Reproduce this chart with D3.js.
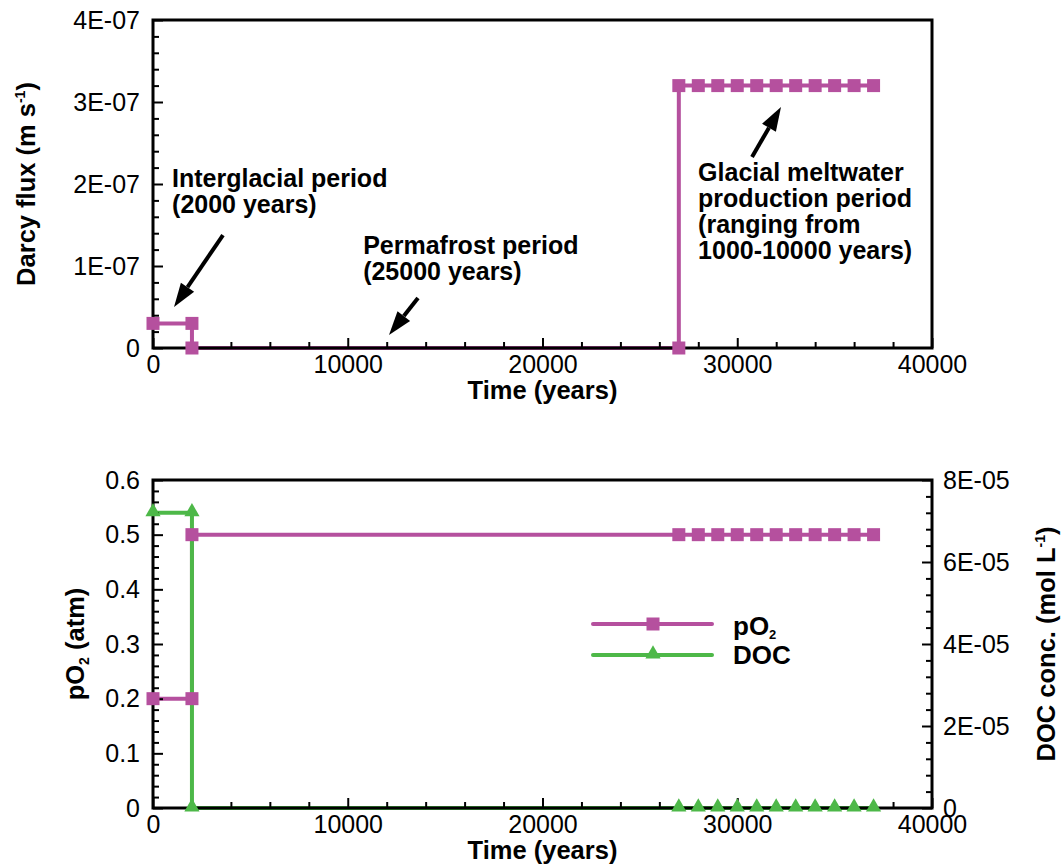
<!DOCTYPE html>
<html><head><meta charset="utf-8">
<script src="https://cdn.jsdelivr.net/npm/d3@7"></script>
<style>body{margin:0;background:#fff} text{font-family:"Liberation Sans",Arial,sans-serif;fill:#000}</style>
</head><body><svg id="c" width="1064" height="865"></svg>
<script>
// ---------- data ----------
const xTicks = [0, 10000, 20000, 30000, 40000];
const xTickLabels = ["0", "10000", "20000", "30000", "40000"];
const fluxTicks = [0, 1e-7, 2e-7, 3e-7, 4e-7];
const fluxTickLabels = ["0", "1E-07", "2E-07", "3E-07", "4E-07"];
const po2Ticks = [0, 0.1, 0.2, 0.3, 0.4, 0.5, 0.6];
const po2TickLabels = ["0", "0.1", "0.2", "0.3", "0.4", "0.5", "0.6"];
const docTicks = [0, 2e-5, 4e-5, 6e-5, 8e-5];
const docTickLabels = ["0", "2E-05", "4E-05", "6E-05", "8E-05"];

const fluxTime  = [0, 2000, 2000, 27000, 27000, 28000, 29000, 30000, 31000, 32000, 33000, 34000, 35000, 36000, 37000];
const fluxValue = [3e-8, 3e-8, 0, 0, 3.2e-7, 3.2e-7, 3.2e-7, 3.2e-7, 3.2e-7, 3.2e-7, 3.2e-7, 3.2e-7, 3.2e-7, 3.2e-7, 3.2e-7];
const po2Time  = [0, 2000, 2000, 27000, 28000, 29000, 30000, 31000, 32000, 33000, 34000, 35000, 36000, 37000];
const po2Value = [0.2, 0.2, 0.5, 0.5, 0.5, 0.5, 0.5, 0.5, 0.5, 0.5, 0.5, 0.5, 0.5, 0.5];
const docTime  = [0, 2000, 2000, 27000, 28000, 29000, 30000, 31000, 32000, 33000, 34000, 35000, 36000, 37000];
const docValue = [7.2e-5, 7.2e-5, 0, 0, 0, 0, 0, 0, 0, 0, 0, 0, 0, 0];

const annTexts = [
  {lines: ["Interglacial period", "(2000 years)"], t: 980, v: 1.963e-7},
  {lines: ["Permafrost period", "(25000 years)"], t: 10790, v: 1.146e-7},
  {lines: ["Glacial meltwater", "production period", "(ranging from", "1000-10000 years)"], t: 27990, v: 2.04e-7}
];
const annArrows = [
  {t0: 3594, v0: 1.378e-7, t1: 1080, v1: 5.0e-8},
  {t0: 13607, v0: 6.1e-8, t1: 12118, v1: 1.59e-8},
  {t0: 30758, v0: 2.33e-7, t1: 32247, v1: 2.94e-7}
];

// ---------- setup ----------
const MAG = "#b5509e", GRN = "#4db848";
const svg = d3.select("#c");
const X0 = 153, X1 = 932;
const x = d3.scaleLinear().domain([0, 40000]).range([X0, X1]);
const yFlux = d3.scaleLinear().domain([0, 4e-7]).range([348, 20]);
const yPo2 = d3.scaleLinear().domain([0, 0.6]).range([808, 480]);
const yDoc = d3.scaleLinear().domain([0, 8e-5]).range([808, 480]);
const FS = 25, TS = 25.5, AS = 25;

function styleAxis(g) {
  g.select(".domain").remove();
  g.selectAll("line").attr("stroke", "#000").attr("stroke-width", 2);
  g.selectAll("text").attr("font-size", FS).attr("font-family", '"Liberation Sans",Arial,sans-serif').attr("fill", "#000");
}
function minor(major, step, lo, hi) {
  const out = [];
  for (let v = lo; v <= hi + step / 10; v += step) {
    const r = +v.toPrecision(10);
    if (!major.some(m => Math.abs(m - r) < step / 100)) out.push(r);
  }
  return out;
}
function xAxes(yTop, yBot) {
  svg.append("g").attr("transform", `translate(0,${yBot})`)
    .call(d3.axisBottom(x).tickValues(xTicks).tickFormat((d, i) => xTickLabels[i]).tickSize(-10).tickPadding(7))
    .call(styleAxis);
  svg.append("g").attr("transform", `translate(0,${yBot})`)
    .call(d3.axisBottom(x).tickValues(minor(xTicks, 2000, 0, 40000)).tickFormat("").tickSize(-6))
    .call(styleAxis);
}
function frame(yTop, yBot) {
  svg.append("rect").attr("x", X0).attr("y", yTop).attr("width", X1 - X0).attr("height", yBot - yTop)
    .attr("fill", "none").attr("stroke", "#000").attr("stroke-width", 3);
}
function drawLine(ts, vs, ys, color) {
  const pts = ts.map((t, i) => [t, vs[i]]);
  svg.append("path").datum(pts)
    .attr("d", d3.line().x(d => x(d[0])).y(d => ys(d[1])))
    .attr("fill", "none").attr("stroke", color).attr("stroke-width", 4).attr("stroke-linejoin", "miter");
}
function squares(ts, vs, ys, color) {
  svg.append("g").selectAll("rect").data(ts.map((t, i) => [t, vs[i]])).join("rect")
    .attr("x", d => x(d[0]) - 6.5).attr("y", d => ys(d[1]) - 6.5).attr("width", 13).attr("height", 13).attr("fill", color);
}
const triSym = d3.symbol().type(d3.symbolTriangle).size(100);
function triangles(ts, vs, ys, color) {
  svg.append("g").selectAll("path").data(ts.map((t, i) => [t, vs[i]])).join("path")
    .attr("d", triSym).attr("transform", d => `translate(${x(d[0])},${ys(d[1]) - 1})`).attr("fill", color);
}

// ---------- top panel ----------
drawLine(fluxTime, fluxValue, yFlux, MAG);
xAxes(20, 348);
svg.append("g").attr("transform", `translate(${X0},0)`)
  .call(d3.axisLeft(yFlux).tickValues(fluxTicks).tickFormat((d, i) => fluxTickLabels[i]).tickSize(-10).tickPadding(13))
  .call(styleAxis);
svg.append("g").attr("transform", `translate(${X0},0)`)
  .call(d3.axisLeft(yFlux).tickValues(minor(fluxTicks, 2e-8, 0, 4e-7)).tickFormat("").tickSize(-6))
  .call(styleAxis);
frame(20, 348);
squares(fluxTime, fluxValue, yFlux, MAG);

svg.append("text").attr("x", (X0 + X1) / 2).attr("y", 399).attr("text-anchor", "middle")
  .attr("font-size", TS).attr("font-weight", "bold").text("Time (years)");
const t1 = svg.append("text").attr("transform", "translate(35,184) rotate(-90)").attr("text-anchor", "middle")
  .attr("font-size", TS).attr("font-weight", "bold");
t1.append("tspan").text("Darcy flux (m s");
t1.append("tspan").attr("font-size", 14).attr("dy", -10).text("-1");
t1.append("tspan").attr("dy", 10).text(")");

annTexts.forEach(a => {
  const tx = svg.append("text").attr("font-size", AS).attr("font-weight", "bold");
  a.lines.forEach((l, i) => tx.append("tspan").attr("x", x(a.t)).attr("y", yFlux(a.v) + i * 26).text(l));
});
annArrows.forEach(a => {
  const x0 = x(a.t0), y0 = yFlux(a.v0), x1 = x(a.t1), y1 = yFlux(a.v1);
  const ang = Math.atan2(y1 - y0, x1 - x0), L = 24, Wd = 8;
  const bx = x1 - L * Math.cos(ang), by = y1 - L * Math.sin(ang);
  svg.append("line").attr("x1", x0).attr("y1", y0).attr("x2", bx).attr("y2", by)
    .attr("stroke", "#000").attr("stroke-width", 4);
  const px = -Math.sin(ang) * Wd, py = Math.cos(ang) * Wd;
  svg.append("path").attr("d", `M${x1},${y1}L${bx + px},${by + py}L${bx - px},${by - py}Z`).attr("fill", "#000");
});

// ---------- bottom panel ----------
drawLine(po2Time, po2Value, yPo2, MAG);
drawLine(docTime, docValue, yDoc, GRN);
xAxes(480, 808);
svg.append("g").attr("transform", `translate(${X0},0)`)
  .call(d3.axisLeft(yPo2).tickValues(po2Ticks).tickFormat((d, i) => po2TickLabels[i]).tickSize(-10).tickPadding(13))
  .call(styleAxis);
svg.append("g").attr("transform", `translate(${X0},0)`)
  .call(d3.axisLeft(yPo2).tickValues(minor(po2Ticks, 0.02, 0, 0.6)).tickFormat("").tickSize(-6))
  .call(styleAxis);
svg.append("g").attr("transform", `translate(${X1},0)`)
  .call(d3.axisRight(yDoc).tickValues(docTicks).tickFormat((d, i) => docTickLabels[i]).tickSize(-10).tickPadding(11))
  .call(styleAxis);
svg.append("g").attr("transform", `translate(${X1},0)`)
  .call(d3.axisRight(yDoc).tickValues(minor(docTicks, 4e-6, 0, 8e-5)).tickFormat("").tickSize(-6))
  .call(styleAxis);
frame(480, 808);
squares(po2Time, po2Value, yPo2, MAG);
triangles(docTime, docValue, yDoc, GRN);

svg.append("text").attr("x", (X0 + X1) / 2).attr("y", 859).attr("text-anchor", "middle")
  .attr("font-size", TS).attr("font-weight", "bold").text("Time (years)");
const t2 = svg.append("text").attr("transform", "translate(84,644) rotate(-90)").attr("text-anchor", "middle")
  .attr("font-size", TS).attr("font-weight", "bold");
t2.append("tspan").text("pO");
t2.append("tspan").attr("font-size", 14).attr("dy", 5).text("2");
t2.append("tspan").attr("dy", -5).text(" (atm)");
const t3 = svg.append("text").attr("transform", "translate(1055,644) rotate(-90)").attr("text-anchor", "middle")
  .attr("font-size", TS).attr("font-weight", "bold");
t3.append("tspan").text("DOC conc. (mol L");
t3.append("tspan").attr("font-size", 14).attr("dy", -10).text("-1");
t3.append("tspan").attr("dy", 10).text(")");

// legend
const legend = [
  {label: "pO", sub: "2", color: MAG, shape: "sq", y: 624, ty: 635},
  {label: "DOC", sub: "", color: GRN, shape: "tri", y: 655, ty: 664}
];
legend.forEach(l => {
  svg.append("line").attr("x1", 593).attr("x2", 712).attr("y1", l.y).attr("y2", l.y)
    .attr("stroke", l.color).attr("stroke-width", 4).attr("stroke-linecap", "round");
  if (l.shape === "sq") svg.append("rect").attr("x", 646.5).attr("y", l.y - 6.5).attr("width", 13).attr("height", 13).attr("fill", l.color);
  else svg.append("path").attr("d", triSym).attr("transform", `translate(653,${l.y - 1})`).attr("fill", l.color);
  const t = svg.append("text").attr("x", 733).attr("y", l.ty).attr("font-size", 26).attr("font-weight", "bold");
  t.append("tspan").text(l.label);
  if (l.sub) t.append("tspan").attr("font-size", 13).attr("dy", 4).text(l.sub);
});
</script></body></html>
